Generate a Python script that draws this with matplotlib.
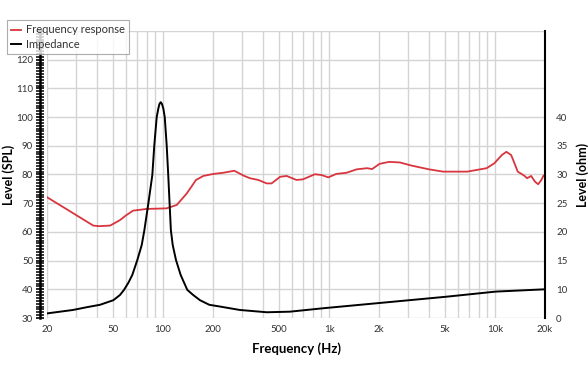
import numpy as np
import matplotlib
matplotlib.use("Agg")
import matplotlib.pyplot as plt
import matplotlib.ticker as ticker

plt.rcParams['font.family'] = ['Lato', 'DejaVu Sans']

RED = '#d8353e'
GRID = '#d4d4d4'
TXT = '#333333'

# frequency response (Hz, dB SPL)
spl_freq = [20, 38, 41, 48, 55, 60, 66, 79.6, 105, 121, 139, 158, 175, 201, 230,
            269, 306, 334, 375, 421, 451, 507, 555, 637, 695, 823, 903, 990, 1105,
            1274, 1469, 1695, 1817, 2014, 2300, 2670, 3146, 4000, 4862, 6800, 8900,
            9900, 11000, 11700, 12500, 13100, 13700, 15000, 15600, 16500, 17400,
            18200, 19000, 19600]
spl_db = [72.1, 62.2, 62.0, 62.2, 64.1, 65.8, 67.4, 68.0, 68.2, 69.4, 73.4, 78.1,
          79.5, 80.2, 80.6, 81.3, 79.6, 78.7, 78.1, 76.9, 76.9, 79.2, 79.5, 78.1,
          78.3, 80.1, 79.8, 79.0, 80.2, 80.6, 81.8, 82.2, 81.9, 83.7, 84.4, 84.2,
          83.1, 81.8, 81.0, 81.0, 82.2, 83.9, 86.8, 87.9, 86.8, 83.9, 81.0, 79.6,
          78.7, 79.5, 77.5, 76.6, 78.1, 79.6]

# impedance (Hz, ohm)
imp_freq = [20, 28.7, 35, 41.7, 50.2, 55, 58.2, 62, 65.3, 70, 74.4, 77.2, 81.6,
            86.2, 88.6, 91.6, 93.7, 95.2, 96.8, 98.5, 100.4, 102.4, 105.2, 107.5,
            109.5, 111.5, 114.4, 119.7, 127.7, 140, 152, 167, 190, 220, 290, 422,
            580, 923, 2165, 5060, 10100, 20000]
imp_ohm = [5.8, 6.4, 6.9, 7.3, 8.1, 9.0, 9.9, 11.2, 12.5, 15.1, 17.7, 20.3, 25.0,
           29.9, 35.1, 40.0, 41.5, 42.3, 42.6, 42.3, 41.5, 40.0, 35.1, 29.9, 25.0,
           20.3, 17.7, 15.1, 12.5, 9.9, 9.0, 8.1, 7.3, 7.0, 6.4, 6.0, 6.1, 6.7,
           7.7, 8.7, 9.6, 10.0]

x_ticks = [20, 50, 100, 200, 500, 1000, 2000, 5000, 10000, 20000]
x_labels = ['20', '50', '100', '200', '500', '1k', '2k', '5k', '10k', '20k']
ohm_ticks = [5, 10, 15, 20, 25, 30, 35, 40]
ohm_labels = ['0', '10', '15', '20', '25', '30', '35', '40']

fig = plt.figure(figsize=(5.88, 3.72), dpi=100)
ax = fig.add_axes([47/588, 54/372, 498/588, 287/372])
ax2 = ax.twinx()

l1, = ax.plot(spl_freq, spl_db, color=RED, lw=1.3, label='Frequency response')
l2, = ax2.plot(imp_freq, imp_ohm, color='black', lw=1.4, label='Impedance')

ax.set_xscale('log')
ax.set_xlim(20, 20000)
ax.set_ylim(30, 130)
ax2.set_ylim(5, 55)

ax.set_xticks(x_ticks, labels=x_labels)
ax.xaxis.set_minor_locator(ticker.LogLocator(base=10, subs=np.arange(2, 10)))
ax.xaxis.set_minor_formatter(ticker.NullFormatter())
ax.tick_params(axis='x', which='both', length=0, labelsize=7, colors=TXT, pad=5)

ax.set_yticks(np.arange(30, 121, 10))
ax.yaxis.set_minor_locator(ticker.MultipleLocator(1))
ax.tick_params(axis='y', which='major', direction='inout', length=6, width=1.2,
               labelsize=7, labelcolor=TXT, pad=2)
ax.tick_params(axis='y', which='minor', direction='inout', length=6, width=1.1)

ax2.set_yticks(ohm_ticks, labels=ohm_labels)
ax2.tick_params(axis='y', length=0, labelsize=7, labelcolor=TXT, pad=8)

ax.grid(True, which='both', axis='x', color=GRID, lw=1)
ax.grid(True, which='major', axis='y', color=GRID, lw=1)
ax.set_axisbelow(True)
ax.axhline(130, color=GRID, lw=1, zorder=0)

for s in ['top', 'bottom']:
    ax.spines[s].set_visible(False)
    ax2.spines[s].set_visible(False)
ax.spines['right'].set_visible(False)
ax2.spines['left'].set_visible(False)
ax.spines['left'].set_position(('outward', 5))
ax.spines['left'].set_linewidth(1.8)
ax2.spines['right'].set_linewidth(1.5)

ax.set_xlabel('Frequency (Hz)', fontsize=9.5, fontweight='bold', labelpad=6)
ax.set_ylabel('Level (SPL)', fontsize=9, fontweight='bold', labelpad=1)
ax2.set_ylabel('Level (ohm)', fontsize=9, fontweight='bold', labelpad=6)

leg = fig.legend(handles=[l1, l2], loc='upper left', bbox_to_anchor=(7/588, 1 - 20/372),
                 fontsize=8, frameon=True, fancybox=False, handlelength=0.9,
                 handletextpad=0.4, borderpad=0.4, labelspacing=0.3,
                 borderaxespad=0)
leg.get_frame().set_edgecolor('#999999')
leg.get_frame().set_linewidth(0.8)
for t in leg.get_texts():
    t.set_color(TXT)

fig.savefig('out.png', dpi=100)
